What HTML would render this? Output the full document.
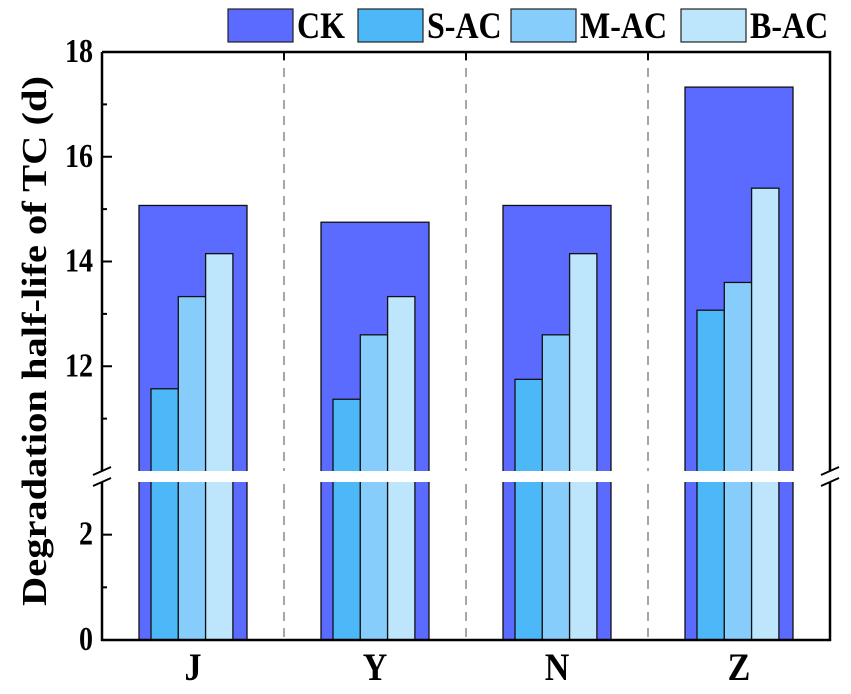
<!DOCTYPE html>
<html><head><meta charset="utf-8"><style>
body{margin:0;background:#fff}
svg text{font-family:"Liberation Serif",serif;font-weight:bold;fill:#000}
</style></head><body>
<svg id="chart" width="851" height="689" xmlns="http://www.w3.org/2000/svg">
</svg>
<script>
const categories=["J","Y","N","Z"];
const seriesNames=["CK","S-AC","M-AC","B-AC"];
const ck=[15.07,14.75,15.07,17.33];
const sac=[11.57,11.37,11.75,13.07];
const mac=[13.33,12.6,12.6,13.6];
const bac=[14.15,13.33,14.15,15.4];
const upperTicks=[12,14,16,18];
const lowerTicks=[0,2];
const colors=["#5b6bff","#4db8f8","#86cdfb","#bde5fb"];
const NS="http://www.w3.org/2000/svg";
const svg=document.getElementById('chart');
const L=102,R=830,T=52,B=640,BRK1=471,BRK2=482;
function y(v){ if(v<=3) return B-(v/3)*(B-BRK2); return BRK1-(v-10)/8*(BRK1-T); }
function gx(i){ return L+(R-L)/4*i; }
function mk(tag,attrs,parent){const e=document.createElementNS(NS,tag);for(const k in attrs)e.setAttribute(k,attrs[k]);(parent||svg).appendChild(e);return e;}
function txt(x,yy,s,size,sy,anchor,parent){const t=mk('text',{x:0,y:0,'text-anchor':anchor,'font-size':size,transform:`translate(${x},${yy}) scale(1,${sy})`},parent);t.textContent=s;return t;}
for(let i=1;i<4;i++){const l=mk('line',{x1:gx(i),x2:gx(i),y1:T,y2:B,stroke:'#888','stroke-width':1.5,'stroke-dasharray':'9,7'});

}
const series=[sac,mac,bac];
categories.forEach((c,i)=>{
 const cx=gx(i)+(R-L)/8;
 const r=mk('rect',{x:cx-54,y:y(ck[i]),width:108,height:B-y(ck[i]),fill:colors[0],stroke:'#111','stroke-width':1.3});
 
 
 series.forEach((s,j)=>{
  const b=mk('rect',{x:cx-42+27.3*j,y:y(s[i]),width:27.3,height:B-y(s[i]),fill:colors[j+1],stroke:'#111','stroke-width':1.3});
  
  
 });
 const t=txt(cx,680,c,34,1.15,'middle');
 
 
});
mk('rect',{x:L+2,y:BRK1,width:R-L-4,height:BRK2-BRK1,fill:'#fff'});
mk('path',{d:`M${L},${T}H${R}V${BRK1}M${R},${BRK2}V${B}H${L}V${BRK2}M${L},${BRK1}V${T}`,fill:'none',stroke:'#000','stroke-width':2.5});
for(let i=1;i<4;i++)mk('line',{x1:gx(i),x2:gx(i),y1:T,y2:T+8,stroke:'#000','stroke-width':2});
[L,R].forEach(x=>{[BRK1,BRK2].forEach(yy=>mk('line',{x1:x-9,y1:yy+4,x2:x+9,y2:yy-4,stroke:'#000','stroke-width':2}));});
upperTicks.forEach(v=>{mk('line',{x1:L,x2:L+10,y1:y(v),y2:y(v),stroke:'#000','stroke-width':2});
 const t=txt(L-9,y(v)+10,String(v),28,1.2,'end');
 
 });
[11,13,15,17].forEach(v=>mk('line',{x1:L,x2:L+5,y1:y(v),y2:y(v),stroke:'#000','stroke-width':2}));
lowerTicks.forEach(v=>{mk('line',{x1:L,x2:L+10,y1:y(v),y2:y(v),stroke:'#000','stroke-width':2});
 const t=txt(L-9,y(v)+10,String(v),28,1.2,'end');
 
 });
[1].forEach(v=>mk('line',{x1:L,x2:L+5,y1:y(v),y2:y(v),stroke:'#000','stroke-width':2}));
const yt=mk('text',{x:0,y:0,'text-anchor':'middle','font-size':35,textLength:530,lengthAdjust:'spacingAndGlyphs',transform:'translate(46,341) rotate(-90)'});yt.textContent='Degradation half-life of TC (d)';


const lx=[228,358,511,681];
seriesNames.forEach((n,k)=>{
 const g=mk('g',{});
 
 
 mk('rect',{x:lx[k],y:9,width:65,height:33,fill:colors[k],stroke:'#222','stroke-width':1.2},g);
 txt(lx[k]+69,38,n,32,1.15,'start',g);
});
</script>
</body></html>
